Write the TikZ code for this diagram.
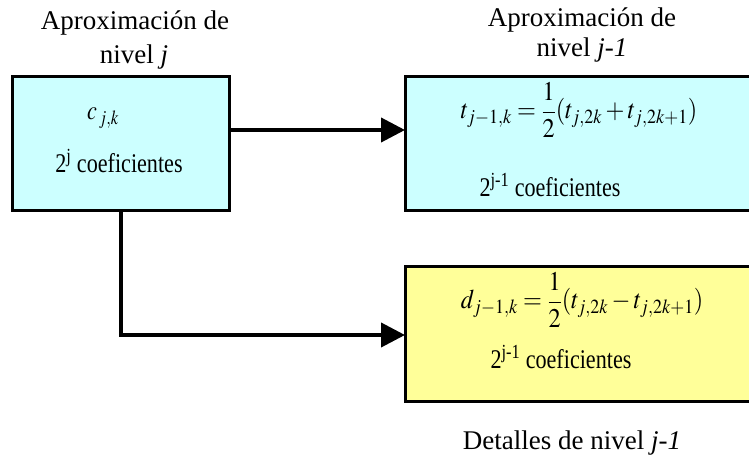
\documentclass[tikz,border=0pt]{standalone}
\usepackage{mathptmx}
\usepackage{fontspec}
\setmainfont{Liberation Serif}
\usetikzlibrary{arrows.meta}
\definecolor{boxcyan}{HTML}{CCFFFF}
\definecolor{boxyellow}{HTML}{FFFF99}
\newcommand\sqz[1]{\scalebox{0.82}[1]{#1}}
\newcommand\sqf[1]{\scalebox{0.9}[1]{#1}}
\begin{document}
\begin{tikzpicture}[x=1pt,y=-1pt,
  box/.style={draw=black, line width=3pt},
  lbl/.style={inner sep=0pt, font=\fontsize{27}{30}\selectfont},
  txt/.style={inner sep=0pt, font=\fontsize{27}{30}\selectfont},
  conn/.style={line width=4pt, -{Triangle[length=24pt,width=24pt]}}]
\useasboundingbox (0,0) rectangle (749,457);
% boxes
\draw[box, fill=boxcyan] (12,77) rectangle (229,210);
\draw[box, fill=boxcyan] (405,77) rectangle (752,210);
\draw[box, fill=boxyellow] (405,266) rectangle (752,401);
\coordinate (L) at (229,130);
\coordinate (R1) at (405,130);
\coordinate (Ld) at (121,210);
\coordinate (R2) at (405,335);
% titles
\node[lbl] (t1) at (135,23) {Aproximación de};
\node[lbl] (t2) at (134,57) {nivel \textit{j}};
\node[lbl] (t3) at (582,20) {Aproximación de};
\node[lbl] (t4) at (582,50) {nivel \textit{j-1}};
\node[lbl] (t5) at (572,443) {Detalles de nivel \textit{j-1}};
% box texts
\node[txt] (c) at (103,118) {\sqz{$c_{\,j,k}$}};
\node[txt] (n1) at (119,161) {\sqz{2\textsuperscript{j} coeficientes}};
\node[txt] (f1) at (579,110) {\sqf{$\displaystyle t_{j-1,k}=\frac{1}{2}(t_{j,2k}+t_{j,2k+1})$}};
\node[txt] (n2) at (550,185) {\sqz{2\textsuperscript{j-1} coeficientes}};
\node[txt] (f2) at (582,300) {\sqf{$\displaystyle d_{j-1,k}=\frac{1}{2}(t_{j,2k}-t_{j,2k+1})$}};
\node[txt] (n3) at (561,357) {\sqz{2\textsuperscript{j-1} coeficientes}};
% connectors
\draw[conn] (L) -- (R1);
\draw[conn] (Ld) |- (R2);
\end{tikzpicture}
\end{document}
